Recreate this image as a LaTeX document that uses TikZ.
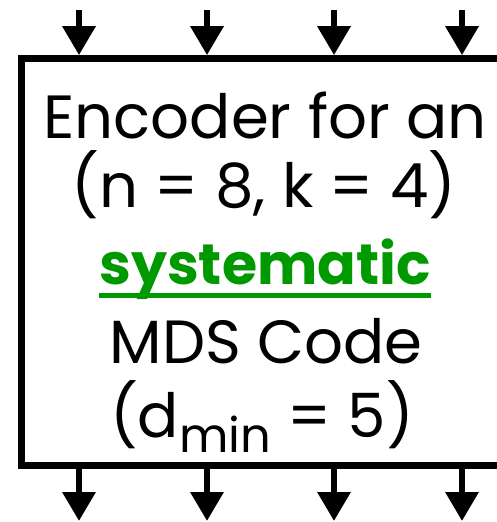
\documentclass[tikz,border=0pt]{standalone}
\usepackage{fontspec}
\setmainfont{Poppins}
\usetikzlibrary{arrows.meta,positioning}
\definecolor{sysgreen}{RGB}{0,153,0}
\tikzset{
  >={Triangle[length=29pt,width=32pt]},
  encbox/.style={draw=black,line width=6.5pt,minimum width=520pt,
    minimum height=407pt,inner sep=0pt},
  sig/.style={->,line width=6.5pt},
  txtline/.style={font=\fontsize{61}{70}\selectfont,anchor=base,inner sep=0pt},
  systxt/.style={txtline,text=sysgreen,font=\fontsize{57}{70}\selectfont\bfseries},
  sysline/.style={line width=5pt,sysgreen},
}
\begin{document}
\begin{tikzpicture}[x=1pt,y=-1pt]
  \useasboundingbox (0,0) rectangle (496,522);
  % encoder block, its right side runs past the edge
  \node[encbox] (enc) at (281.7,261.9) {};
  % inputs
  \coordinate (in1) at (79,10);  \coordinate (in2) at (207,10);
  \coordinate (in3) at (334,10); \coordinate (in4) at (462,10);
  \draw[sig] (in1) -- (in1 |- enc.north);
  \draw[sig] (in2) -- (in2 |- enc.north);
  \draw[sig] (in3) -- (in3 |- enc.north);
  \draw[sig] (in4) -- (in4 |- enc.north);
  % outputs
  \coordinate (out1) at (79,521);  \coordinate (out2) at (207,521);
  \coordinate (out3) at (334,521); \coordinate (out4) at (462,521);
  \draw[sig] (out1 |- enc.south) -- (out1);
  \draw[sig] (out2 |- enc.south) -- (out2);
  \draw[sig] (out3 |- enc.south) -- (out3);
  \draw[sig] (out4 |- enc.south) -- (out4);
  % label lines
  \node[txtline] (l1) at (265,138) {Encoder for an};
  \node[txtline] (l2) at (264,207) {(n = 8, k = 4)};
  \node[systxt] (sys) at (265,284) {systematic};
  \draw[sysline] ([yshift=-11pt]sys.base west) -- ([yshift=-11pt]sys.base east);
  \node[txtline] (l4) at (266,363) {MDS Code};
  \node[txtline] (l5) at (262,437)
    {(d\raisebox{-15pt}{\fontsize{48}{48}\selectfont min} = 5)};
\end{tikzpicture}
\end{document}
